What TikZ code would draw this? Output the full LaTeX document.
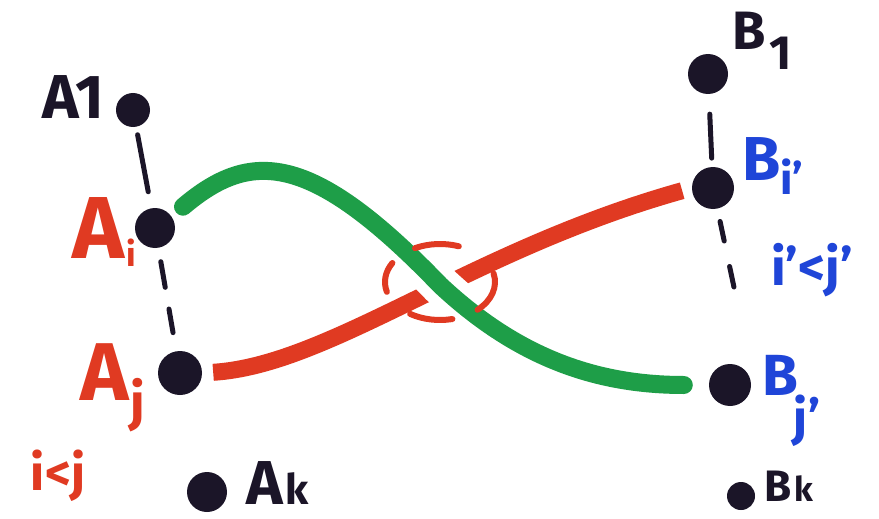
\documentclass[tikz,border=0pt]{standalone}
\usepackage{fontspec}
\setmainfont{Fira Sans}
\definecolor{mred}{HTML}{E03A22}
\definecolor{mgreen}{HTML}{1E9E48}
\definecolor{mblue}{HTML}{1F45D8}
\definecolor{mdot}{HTML}{1B1528}
\tikzset{
  blob/.style={circle, fill=mdot, draw=none, inner sep=0pt, minimum size=#1},
  dashline/.style={draw=mdot, line width=5pt, line cap=round},
  greenline/.style={draw=mgreen, line width=18pt, line cap=round},
  redline/.style={draw=mred, line width=17pt, line cap=butt},
  ring/.style={draw=mred, line width=6pt, line cap=round},
  lab/.style={inner sep=0pt, anchor=base west, font=\bfseries},
}
\newcommand{\fs}[1]{\fontsize{#1}{#1}\selectfont}
\begin{document}
\begin{tikzpicture}[x=1pt,y=-1pt]
\fill[white] (0,0) rectangle (879,519);
\useasboundingbox (0,0) rectangle (879,519);

% points
\node[blob=34] (A1) at (133,110) {};
\node[blob=40] (Ai) at (155,228) {};
\node[blob=44] (Aj) at (180,373) {};
\node[blob=40] (Ak) at (207,492) {};
\node[blob=40] (B1) at (708,74) {};
\node[blob=42] (Bi) at (713,188) {};
\node[blob=42] (Bj) at (730,385) {};
\node[blob=28] (Bk) at (741,496) {};
\coordinate (Bend) at (735,292);
\coordinate (C) at (440,282);

% dashed links
\draw[dashline, dash pattern=on 58pt off 300pt, shorten <=8pt] (A1) -- (Ai);
\draw[dashline, dash pattern=on 26pt off 22pt on 24pt off 300pt, shorten <=14pt] (Ai) -- (Aj);
\draw[dashline, dash pattern=on 44pt off 300pt, shorten <=20pt] (B1) -- (Bi);
\draw[dashline, dash pattern=on 20pt off 26pt on 21pt off 300pt, shorten <=13pt] (Bi) -- (Bend);

% red strand
\draw[redline, shorten <=11pt, shorten >=10pt] (Aj.east) .. controls (330,365) and (470,250) .. (Bi.west);

% gap in red under green
\begin{scope}
\clip (C) circle (42);
\draw[white, line width=40pt] (Ai.35) .. controls (250,150) and (310,150) .. (440,285) .. controls (520,360) and (600,385) .. (Bj.west);
\end{scope}

% green strand
\draw[greenline, shorten <=15pt, shorten >=25pt] (Ai.35) .. controls (250,150) and (310,150) .. (440,285) .. controls (520,360) and (600,385) .. (Bj.west);

% dashed ring around the crossing
\draw[ring] ([shift={(-70:55 and 38)}]C) arc[start angle=-70, end angle=-117, x radius=55, y radius=38];
\draw[ring] ([shift={(-150:55 and 38)}]C) arc[start angle=-150, end angle=-195, x radius=55, y radius=38];
\draw[ring] ([shift={(-237:55 and 38)}]C) arc[start angle=-237, end angle=-283, x radius=55, y radius=38];
\draw[ring] ([shift={(-313:55 and 38)}]C) arc[start angle=-313, end angle=-373, x radius=55, y radius=38];

% labels left
\node[lab, text=mdot] (tA1) at (42,118) {\fs{62}A1};
\node[lab, text=mred] (tAi) at (72,258) {\fs{88}A\kern2pt\raisebox{-8pt}{\fs{34}i}};
\node[lab, text=mred] (tAj) at (80,400) {\fs{82}A\kern2pt\raisebox{-20pt}{\fs{52}j}};
\node[inner sep=0pt, text=mred, font=\bfseries] (tij) at (58,476) {\fs{50}i<j};
\node[lab, text=mdot] (tAk) at (246,504) {\fs{62}A\kern3pt{\fs{42}k}};

% labels right
\node[lab, text=mdot] (tB1) at (732,50) {\fs{54}B\kern4pt\raisebox{-20pt}{\fs{48}1}};
\node[lab, text=mblue] (tBi) at (742,180) {\fs{62}B\raisebox{-14pt}{\fs{44}i'}};
\node[inner sep=0pt, text=mblue, font=\bfseries] (tij2) at (812,270) {\fs{52}i'<j'};
\node[lab, text=mblue] (tBj) at (762,395) {\fs{58}B\kern-4pt\raisebox{-40pt}{\fs{50}j'}};
\node[lab, text=mdot] (tBk) at (764,501) {\fs{44}B\kern3pt{\fs{34}k}};
\end{tikzpicture}
\end{document}
